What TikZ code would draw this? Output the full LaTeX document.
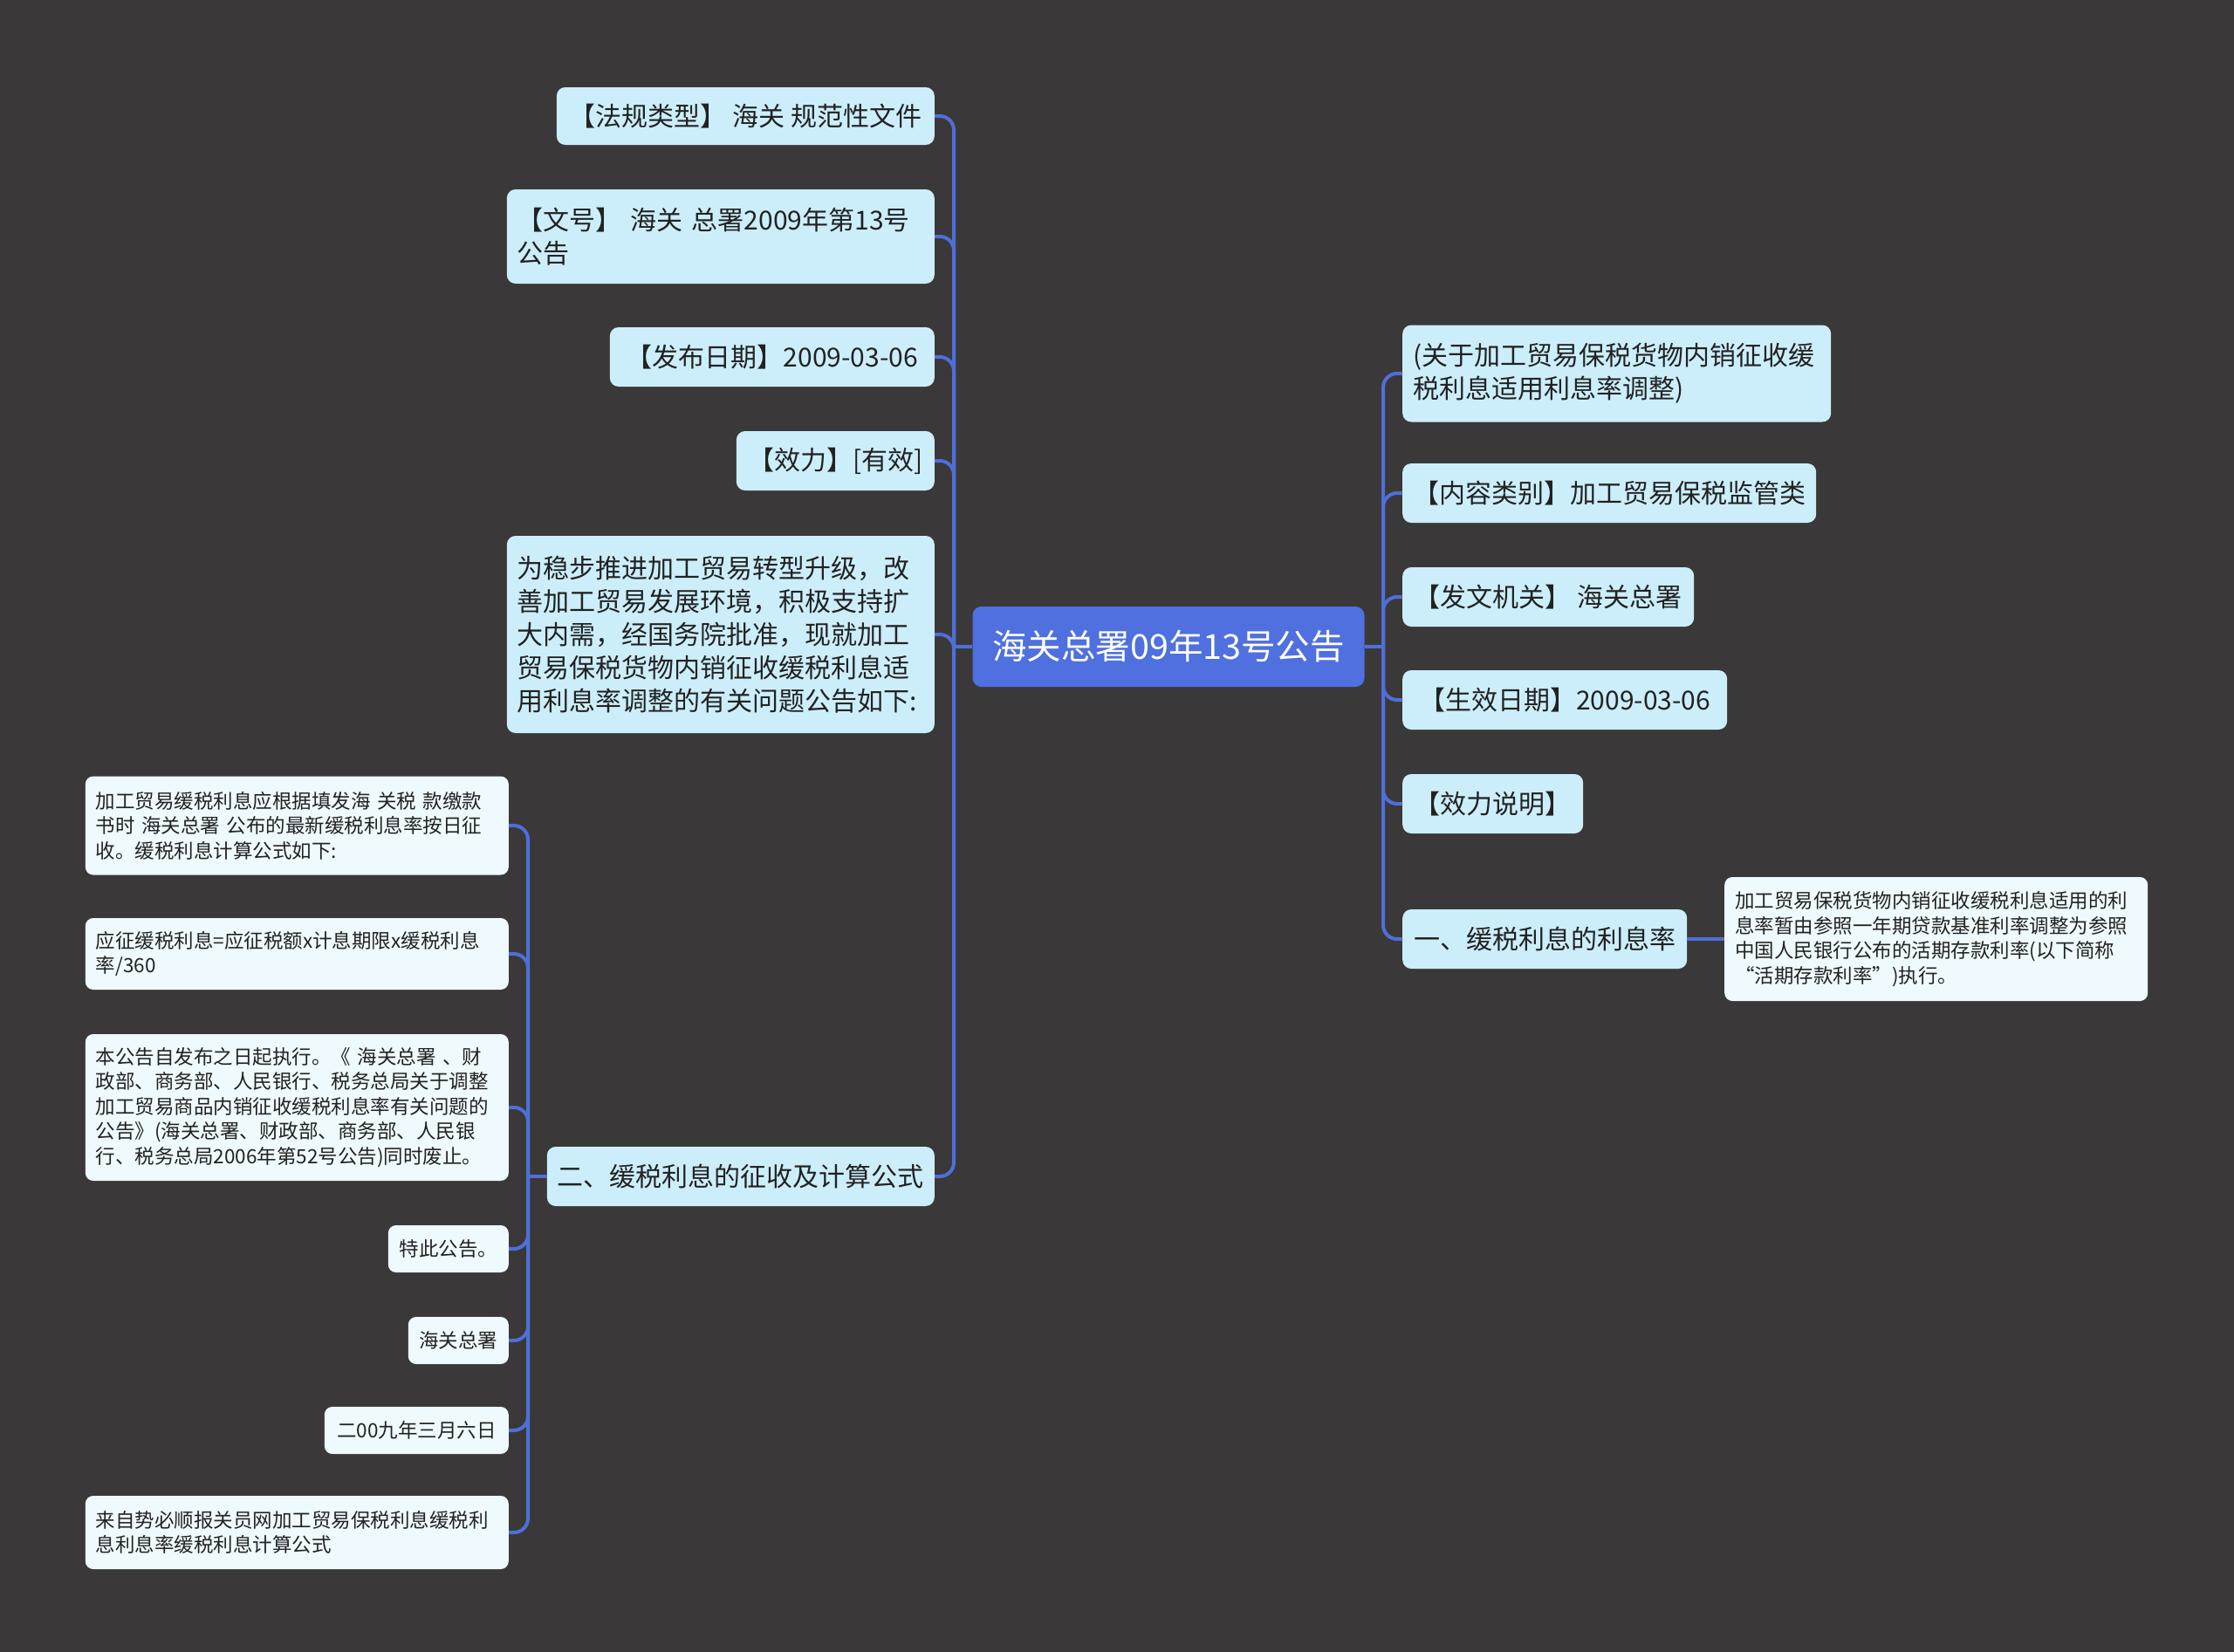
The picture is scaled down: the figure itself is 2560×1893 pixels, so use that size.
\documentclass[tikz,border=0pt]{standalone}
\usepackage{fontspec}
\setmainfont{Noto Sans CJK SC}
\definecolor{canvasbg}{HTML}{3A3839}
\definecolor{rootblue}{HTML}{4F70DE}
\definecolor{topicbg}{HTML}{CCEEFB}
\definecolor{subbg}{HTML}{EEFAFD}
\definecolor{linkblue}{HTML}{4F6FD8}
\definecolor{inkdark}{HTML}{222222}
\tikzset{
  rootbox/.style={fill=rootblue, rounded corners=10pt, text=white,
                  font=\fontsize{39.5}{46}\selectfont, inner xsep=14pt,
                  minimum height=92pt},
  topicbox/.style={fill=topicbg, rounded corners=10pt, text=inkdark,
                   font=\fontsize{30}{38}\selectfont, inner xsep=12pt,
                   inner ysep=10pt, minimum height=68pt, align=left},
  subbox/.style={fill=subbg, rounded corners=9pt, text=inkdark,
                 font=\fontsize{22.5}{28.5}\selectfont, inner xsep=12pt,
                 inner ysep=10pt, minimum height=54pt, align=left},
  link/.style={draw=linkblue, line width=4pt, rounded corners=16pt},
}

\begin{document}
\begin{tikzpicture}[x=1pt, y=-1pt]

  \useasboundingbox (0,0) rectangle (2560,1893);
  \fill[canvasbg] (0,0) rectangle (2560,1893);

  %% ── Root ─────────────────────────────────────────────────────────────

  \node[rootbox, minimum width=449pt] (root) at (1339,741) {海关总署09年13号公告};

  \coordinate (ltrunk) at (1093,741);
  \coordinate (rtrunk) at (1585,741);

  %% ── Left topics ──────────────────────────────────────────────────────

  \node[topicbox, anchor=east, minimum width=433pt, minimum height=66pt]
    (fagui) at (1071,133) {【法规类型】 海关 规范性文件};
  \node[topicbox, anchor=east, text width=466pt, minimum height=108pt]
    (wenhao) at (1071,271) {【文号】~海关~总署2009年第13号\\公告};
  \node[topicbox, anchor=east, minimum width=372pt]
    (fabu) at (1071,409) {【发布日期】2009-03-06};
  \node[topicbox, anchor=east, minimum width=227pt]
    (xiaoli) at (1071,528) {【效力】[有效]};
  \node[topicbox, anchor=east, text width=466pt, minimum height=226pt]
    (intro) at (1071,727)
    {为稳步推进加工贸易转型升级，改\\
     善加工贸易发展环境，积极支持扩\\
     大内需，经国务院批准，现就加工\\
     贸易保税货物内销征收缓税利息适\\
     用利息率调整的有关问题公告如下:};
  \node[topicbox, anchor=east, minimum width=444pt]
    (erjie) at (1071,1348) {二、缓税利息的征收及计算公式};

  \draw[link] (root.west) -- (ltrunk);
  \draw[link] (ltrunk) |- (fagui.east);
  \draw[link] (ltrunk) |- (wenhao.east);
  \draw[link] (ltrunk) |- (fabu.east);
  \draw[link] (ltrunk) |- (xiaoli.east);
  \draw[link] (ltrunk) |- (intro.east);
  \draw[link] (ltrunk) |- (erjie.east);

  %% ── Details of 二 (far left) ─────────────────────────────────────────

  \coordinate (etrunk) at (605,1348);

  \node[subbox, anchor=east, text width=461pt, minimum height=113pt]
    (jiagong) at (583,946)
    {加工贸易缓税利息应根据填发海 关税 款缴款\\
     书时 海关总署 公布的最新缓税利息率按日征\\
     收。缓税利息计算公式如下:};
  \node[subbox, anchor=east, text width=461pt, minimum height=82pt]
    (gongshi) at (583,1093)
    {应征缓税利息=应征税额x计息期限x缓税利息\\率/360};
  \node[subbox, anchor=east, text width=461pt, minimum height=168pt]
    (zhixing) at (583,1269)
    {本公告自发布之日起执行。《 海关总署 、财\\
     政部、商务部、人民银行、税务总局关于调整\\
     加工贸易商品内销征收缓税利息率有关问题的\\
     公告》(海关总署、财政部、商务部、人民银\\
     行、税务总局2006年第52号公告)同时废止。};
  \node[subbox, anchor=east, minimum width=138pt]
    (tecigg) at (583,1431) {特此公告。};
  \node[subbox, anchor=east, minimum width=115pt]
    (shuming) at (583,1536) {海关总署};
  \node[subbox, anchor=east, minimum width=211pt]
    (riqi) at (583,1639) {二00九年三月六日};
  \node[subbox, anchor=east, text width=461pt, minimum height=84pt]
    (laizi) at (583,1756)
    {来自势必顺报关员网加工贸易保税利息缓税利\\息利息率缓税利息计算公式};

  \draw[link] (erjie.west) -- (etrunk);
  \draw[link] (etrunk) |- (jiagong.east);
  \draw[link] (etrunk) |- (gongshi.east);
  \draw[link] (etrunk) |- (zhixing.east);
  \draw[link] (etrunk) |- (tecigg.east);
  \draw[link] (etrunk) |- (shuming.east);
  \draw[link] (etrunk) |- (riqi.east);
  \draw[link] (etrunk) |- (laizi.east);

  %% ── Right topics ─────────────────────────────────────────────────────

  \node[topicbox, anchor=west, text width=467pt, minimum height=111pt]
    (guanyu) at (1607,428)
    {(关于加工贸易保税货物内销征收缓\\税利息适用利息率调整)};
  \node[topicbox, anchor=west, minimum width=473pt]
    (neirong) at (1607,565) {【内容类别】加工贸易保税监管类};
  \node[topicbox, anchor=west, minimum width=334pt]
    (fawen) at (1607,684) {【发文机关】 海关总署};
  \node[topicbox, anchor=west, minimum width=372pt]
    (shengxiao) at (1607,802) {【生效日期】2009-03-06};
  \node[topicbox, anchor=west, minimum width=207pt]
    (xlsm) at (1607,921) {【效力说明】};
  \node[topicbox, anchor=west, minimum width=326pt]
    (yilv) at (1607,1076) {一、缓税利息的利息率};

  % detail of 一, straight link
  \node[subbox, anchor=west, text width=461pt, minimum height=142pt]
    (lilv) at (1976,1076)
    {加工贸易保税货物内销征收缓税利息适用的利\\
     息率暂由参照一年期贷款基准利率调整为参照\\
     中国人民银行公布的活期存款利率(以下简称\\
     “活期存款利率”)执行。};

  \draw[link] (root.east) -- (rtrunk);
  \draw[link] (rtrunk) |- (guanyu.west);
  \draw[link] (rtrunk) |- (neirong.west);
  \draw[link] (rtrunk) |- (fawen.west);
  \draw[link] (rtrunk) |- (shengxiao.west);
  \draw[link] (rtrunk) |- (xlsm.west);
  \draw[link] (rtrunk) |- (yilv.west);
  \draw[link] (yilv.east) -- (lilv.west);

\end{tikzpicture}
\end{document}
